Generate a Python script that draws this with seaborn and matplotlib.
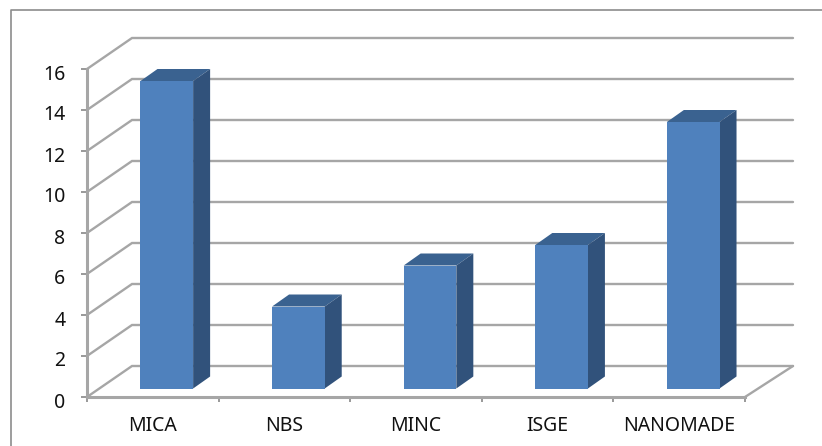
import matplotlib
matplotlib.use("Agg")
import matplotlib.pyplot as plt
from matplotlib.lines import Line2D
from matplotlib.patches import Polygon
from matplotlib.transforms import ScaledTranslation
import pandas as pd
import seaborn as sns

categories = ["MICA", "NBS", "MINC", "ISGE", "NANOMADE"]
values = [15, 4, 6, 7, 13]
y_ticks = [0, 2, 4, 6, 8, 10, 12, 14, 16]

W, H = 822, 446
LEFT, RIGHT, TOP, BOTTOM = 87, 745, 69, 397
GRID = "#A6A6A6"
FRONT, TOPC, SIDE = "#4F81BD", "#3A6290", "#31527B"

sns.set_theme(style="white")
plt.rcParams["font.family"] = ["Noto Sans", "DejaVu Sans"]

fig = plt.figure(figsize=(W / 100, H / 100), dpi=100, facecolor="white")
ax = fig.add_axes([LEFT / W, 1 - BOTTOM / H, (RIGHT - LEFT) / W, (BOTTOM - TOP) / H])

df = pd.DataFrame({"category": categories, "value": values})
sns.barplot(data=df, x="category", y="value", color=FRONT, saturation=1,
            width=0.40, ax=ax, zorder=5, linewidth=0)
ax.set_xlim(-0.5, len(categories) - 0.5)
ax.set_ylim(0, 16)

ux = (RIGHT - LEFT) / len(categories)   # pixels per category
uy = (BOTTOM - TOP) / 16                # pixels per value unit
wall_dxl, wall_dxr, wall_dy = 45 / ux, 48 / ux, 31 / uy
bar_dx, bar_dy = 17 / ux, 12 / uy
lift_x, lift_y = 14 / ux, 8.5 / uy

# back wall gridlines and their connectors to the front axis
x0, x1 = ax.get_xlim()
for v in y_ticks:
    ax.plot([x0, x0 + wall_dxl, x1 + wall_dxr], [v, v + wall_dy, v + wall_dy],
            color=GRID, lw=1.7, clip_on=False, zorder=1, solid_joinstyle="miter")
# floor right edge
ax.plot([x1, x1 + wall_dxr], [0, wall_dy], color=GRID, lw=1.7, clip_on=False, zorder=1)

# extrude the bars
for patch, v in zip(ax.patches, values):
    patch.set_x(patch.get_x() + lift_x)
    patch.set_y(lift_y)
    patch.set_height(v)
    patch.set_clip_on(False)
    xl, w = patch.get_x(), patch.get_width()
    xr = xl + w
    yb, yt = lift_y, lift_y + v
    ax.add_patch(Polygon([(xl, yt), (xr, yt), (xr + bar_dx, yt + bar_dy), (xl + bar_dx, yt + bar_dy)],
                         closed=True, facecolor=TOPC, edgecolor="none", zorder=4, clip_on=False))
    ax.add_patch(Polygon([(xr, yb), (xr + bar_dx, yb + bar_dy), (xr + bar_dx, yt + bar_dy), (xr, yt)],
                         closed=True, facecolor=SIDE, edgecolor="none", zorder=4, clip_on=False))

sns.despine(ax=ax, top=True, right=True)
for s in ("left", "bottom"):
    ax.spines[s].set_color(GRID)
    ax.spines[s].set_linewidth(2.2)

ax.set_xlabel("")
ax.set_ylabel("")
ax.set_yticks(y_ticks)
ax.set_xticks(range(len(categories)))
ax.set_xticklabels(categories)
ax.set_xticks([i - 0.5 for i in range(len(categories) + 1)], minor=True)
ax.tick_params(axis="x", which="major", length=0, pad=14, labelsize=14, labelcolor="#111111")
ax.tick_params(axis="x", which="minor", length=3.5, width=1.2, color="#888888", bottom=True)
ax.tick_params(axis="y", which="major", length=4.5, width=1.2, color="#888888", left=True,
               pad=11, labelsize=14, labelcolor="#111111")
ax.patch.set_alpha(0)

# tick numbers sit slightly below their ticks in the reference
shift = ScaledTranslation(0, -3 / 100, fig.dpi_scale_trans)
for label in ax.get_yticklabels():
    label.set_transform(label.get_transform() + shift)

# outer chart frame: only its top and left edges lie inside the image
fig.add_artist(Line2D([11 / W, 11 / W, 1], [0, 1 - 10 / H, 1 - 10 / H],
                      color="#8C8C8C", lw=1.2, transform=fig.transFigure))

fig.savefig("out.png", dpi=100, facecolor="white")
